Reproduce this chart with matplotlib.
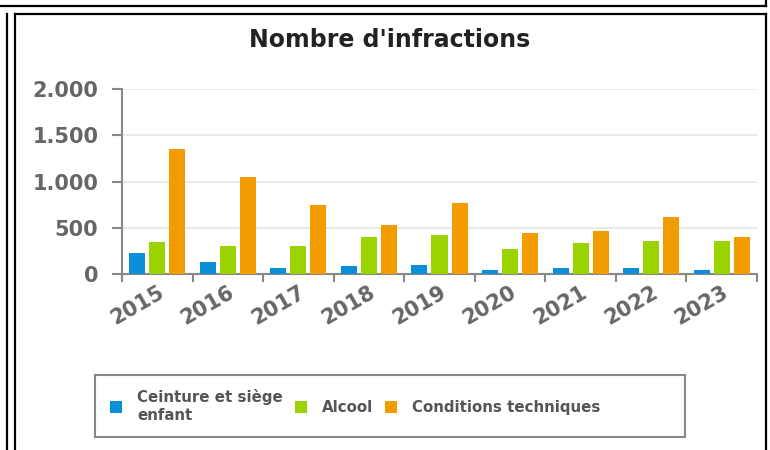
import matplotlib.pyplot as plt
import numpy as np
from matplotlib.lines import Line2D
from matplotlib.patches import Patch, Rectangle

# data
years = ['2015', '2016', '2017', '2018', '2019', '2020', '2021', '2022', '2023']
ceinture = [227, 133, 68, 90, 94, 47, 68, 68, 47]
alcool = [350, 306, 306, 396, 418, 267, 332, 353, 353]
conditions = [1355, 1049, 742, 526, 764, 440, 461, 616, 396]
series_names = ['Ceinture et siège\nenfant', 'Alcool', 'Conditions techniques']
colors = ['#0a8fd8', '#9bd300', '#f39c00']

W, H = 770, 450
fig = plt.figure(figsize=(W / 100, H / 100), dpi=100)

# page frame lines
def fline(x0, y0, x1, y1):
    fig.add_artist(Line2D([x0 / W, x1 / W], [1 - y0 / H, 1 - y1 / H],
                          color='black', lw=1.6, transform=fig.transFigure))

fline(0, 6, 766, 6)
fline(766, 0, 766, 6)
fline(7, 14, 7, 450)
fline(15, 14, 766, 14)
fline(15, 14, 15, 450)
fline(766, 14, 766, 450)

ax = fig.add_axes([122 / W, 1 - 274 / H, (757 - 122) / W, (274 - 89) / H])

x = np.arange(len(years))
bw = 0.227
step = 0.284
for k, vals in enumerate([ceinture, alcool, conditions]):
    ax.bar(x + (k - 1) * step, vals, width=bw, color=colors[k],
           edgecolor='none', zorder=3)

ax.set_xlim(-0.5, len(years) - 0.5)
ax.set_ylim(0, 2000)
ax.set_yticks([0, 500, 1000, 1500, 2000])
ax.set_yticklabels(['0', '500', '1.000', '1.500', '2.000'])
ax.yaxis.grid(True, color='#e6e6e6', lw=1.2, zorder=0)
ax.set_axisbelow(True)

ax.set_xticks(x)
ax.set_xticklabels(years, rotation=30, ha='right', rotation_mode='anchor')
ax.set_xticks(np.arange(-0.5, len(years)), minor=True)
ax.tick_params(axis='x', which='major', length=0, pad=6)
ax.tick_params(axis='x', which='minor', length=6, width=1.5, color='#888888', direction='out')
ax.tick_params(axis='y', length=7, width=1.5, color='#888888', pad=10)

for lab in ax.get_xticklabels() + ax.get_yticklabels():
    lab.set_fontweight('bold')
    lab.set_color('#666666')
    lab.set_fontsize(15)

for s in ['top', 'right']:
    ax.spines[s].set_visible(False)
for s in ['left', 'bottom']:
    ax.spines[s].set_color('#888888')
    ax.spines[s].set_linewidth(1.5)

fig.text(390 / W, 1 - 40 / H, "Nombre d'infractions", ha='center', va='center',
         fontsize=17, fontweight='bold', color='#222222')

# legend box
fig.add_artist(Rectangle((95 / W, 1 - 437 / H), (685 - 95) / W, (437 - 375) / H,
                         transform=fig.transFigure, facecolor='white',
                         edgecolor='#888888', lw=1.5))

handles = [Patch(facecolor=c, edgecolor='none') for c in colors]
leg = fig.legend(handles, series_names, loc='center left', ncol=3,
                 bbox_to_anchor=(110 / W, 1 - 406 / H),
                 frameon=False, prop={'weight': 'bold', 'size': 10.8},
                 handlelength=0.8, handleheight=0.8, handletextpad=1.0,
                 columnspacing=0.8, borderpad=0, borderaxespad=0)
for t in leg.get_texts():
    t.set_color('#555555')

fig.savefig('out.png', dpi=100)
